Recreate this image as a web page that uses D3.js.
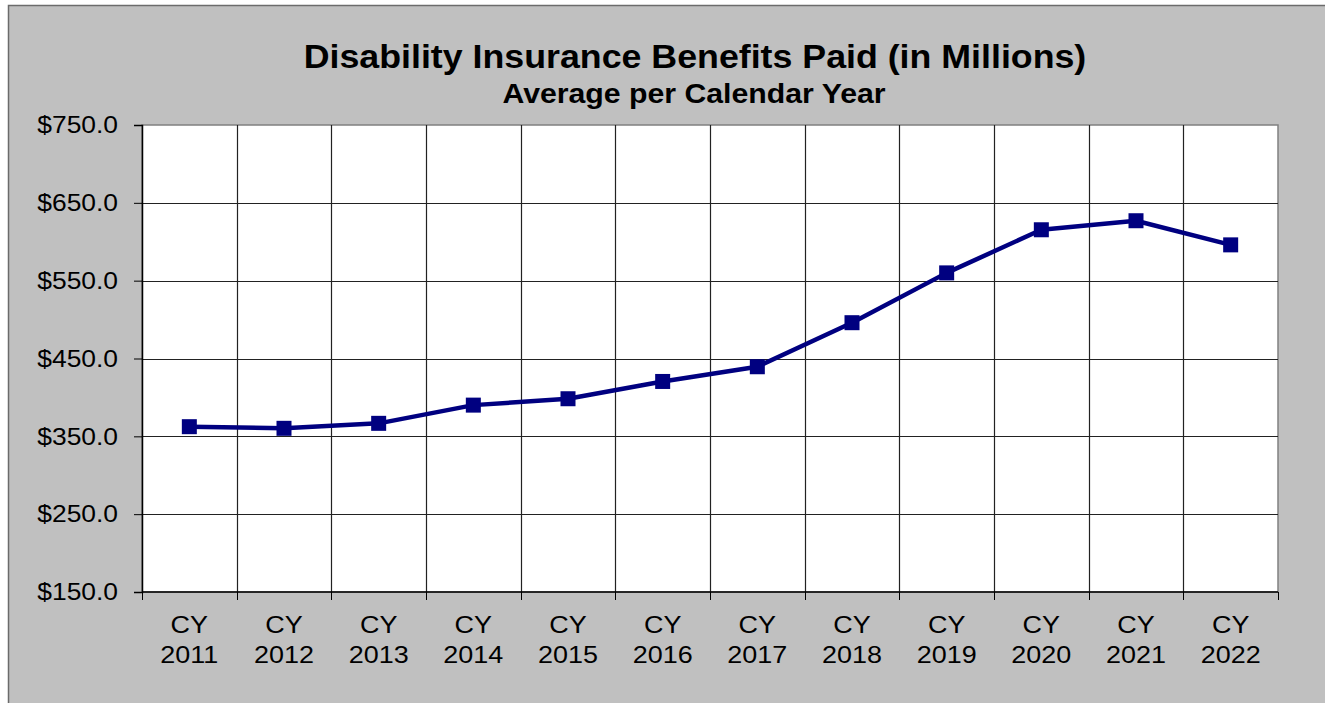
<!DOCTYPE html>
<html>
<head>
<meta charset="utf-8">
<script src="https://cdn.jsdelivr.net/npm/d3@7"></script>
<style>
  body { margin: 0; background: #fff; }
  text { font-family: Arial, "Liberation Sans", sans-serif; fill: #000; }
</style>
</head>
<body>
<div id="chart"></div>
<script>
const years = ["2011", "2012", "2013", "2014", "2015", "2016", "2017", "2018", "2019", "2020", "2021", "2022"];
const benefits = [362.4, 360.3, 366.7, 390.1, 398.3, 420.5, 439.4, 496.0, 560.0, 615.4, 627.0, 596.0];
const yTicks = [150, 250, 350, 450, 550, 650, 750];

const width = 1325, height = 703;
const margin = { top: 125, right: 47, bottom: 111, left: 142 };
// the reference text is a little wider than plain Arial
const sx = 1.1;

const svg = d3.select("#chart").append("svg")
  .attr("width", width)
  .attr("height", height);

// chart area background + frame
svg.append("rect")
  .attr("x", 8.5).attr("y", 5.5)
  .attr("width", width + 10).attr("height", height + 10)
  .attr("fill", "#c0c0c0")
  .attr("stroke", "#6b6b6b")
  .attr("stroke-width", 1.5);

const x = d3.scaleBand()
  .domain(years)
  .range([margin.left, width - margin.right]);

const y = d3.scaleLinear()
  .domain([150, 750])
  .range([height - margin.bottom, margin.top]);

// plot area
svg.append("rect")
  .attr("x", margin.left).attr("y", margin.top)
  .attr("width", width - margin.left - margin.right)
  .attr("height", height - margin.bottom - margin.top)
  .attr("fill", "#fff")
  .attr("stroke", "#808080")
  .attr("stroke-width", 1.5);

// horizontal grid
svg.append("g")
  .selectAll("line")
  .data(yTicks.slice(1, -1))
  .join("line")
  .attr("x1", margin.left).attr("x2", width - margin.right)
  .attr("y1", d => Math.round(y(d)) + 0.5).attr("y2", d => Math.round(y(d)) + 0.5)
  .attr("stroke", "#222")
  .attr("stroke-width", 1.2);

// vertical grid at category boundaries
svg.append("g")
  .selectAll("line")
  .data(years.slice(1))
  .join("line")
  .attr("x1", d => Math.round(x(d)) + 0.5).attr("x2", d => Math.round(x(d)) + 0.5)
  .attr("y1", margin.top).attr("y2", height - margin.bottom)
  .attr("stroke", "#222")
  .attr("stroke-width", 1.2);

// y axis
const yAxis = svg.append("g")
  .attr("transform", `translate(${margin.left},0)`)
  .call(d3.axisLeft(y).tickValues(yTicks).tickSize(8).tickPadding(16)
    .tickFormat(d => "$" + d3.format(".1f")(d)));
yAxis.select(".domain").attr("stroke", "#000").attr("stroke-width", 1.5);
yAxis.selectAll(".tick line").attr("stroke", "#000");
yAxis.selectAll("text")
  .attr("x", -24 / sx)
  .attr("transform", `scale(${sx},1)`)
  .attr("font-size", 24)
  .attr("fill", "#000")
  .style("font-family", "Arial, 'Liberation Sans', sans-serif");

// x axis: ticks at category boundaries
const xAxisG = svg.append("g");
xAxisG.append("line")
  .attr("x1", margin.left).attr("x2", width - margin.right)
  .attr("y1", height - margin.bottom).attr("y2", height - margin.bottom)
  .attr("stroke", "#000").attr("stroke-width", 1.5);
xAxisG.selectAll(".xtick")
  .data(years.concat(["end"]))
  .join("line")
  .attr("class", "xtick")
  .attr("x1", (d, i) => Math.round(margin.left + i * x.bandwidth()) + 0.5)
  .attr("x2", (d, i) => Math.round(margin.left + i * x.bandwidth()) + 0.5)
  .attr("y1", height - margin.bottom)
  .attr("y2", height - margin.bottom + 8)
  .attr("stroke", "#000");

const xLabels = xAxisG.selectAll(".xlabel")
  .data(years)
  .join("text")
  .attr("class", "xlabel")
  .attr("transform", d => `translate(${x(d) + x.bandwidth() / 2},0) scale(${sx},1)`)
  .attr("text-anchor", "middle")
  .attr("font-size", 24.5);
xLabels.append("tspan").attr("x", 0).attr("y", 633).text("CY");
xLabels.append("tspan").attr("x", 0).attr("y", 663).text(d => d);

// series line
const line = d3.line()
  .x((d, i) => x(years[i]) + x.bandwidth() / 2)
  .y(d => y(d));

svg.append("path")
  .datum(benefits)
  .attr("d", line)
  .attr("fill", "none")
  .attr("stroke", "#000080")
  .attr("stroke-width", 4.5)
  .attr("stroke-linejoin", "round");

svg.append("g")
  .selectAll("rect")
  .data(benefits)
  .join("rect")
  .attr("x", (d, i) => x(years[i]) + x.bandwidth() / 2 - 7.5)
  .attr("y", d => y(d) - 7.5)
  .attr("width", 15).attr("height", 15)
  .attr("fill", "#000080");

// titles
svg.append("text")
  .attr("transform", `translate(695,67.5) scale(${sx},1)`)
  .attr("text-anchor", "middle")
  .attr("font-size", 32.5)
  .attr("font-weight", "bold")
  .text("Disability Insurance Benefits Paid (in Millions)");

svg.append("text")
  .attr("transform", `translate(694,103) scale(${sx},1)`)
  .attr("text-anchor", "middle")
  .attr("font-size", 27.5)
  .attr("font-weight", "bold")
  .text("Average per Calendar Year");
</script>
</body>
</html>
